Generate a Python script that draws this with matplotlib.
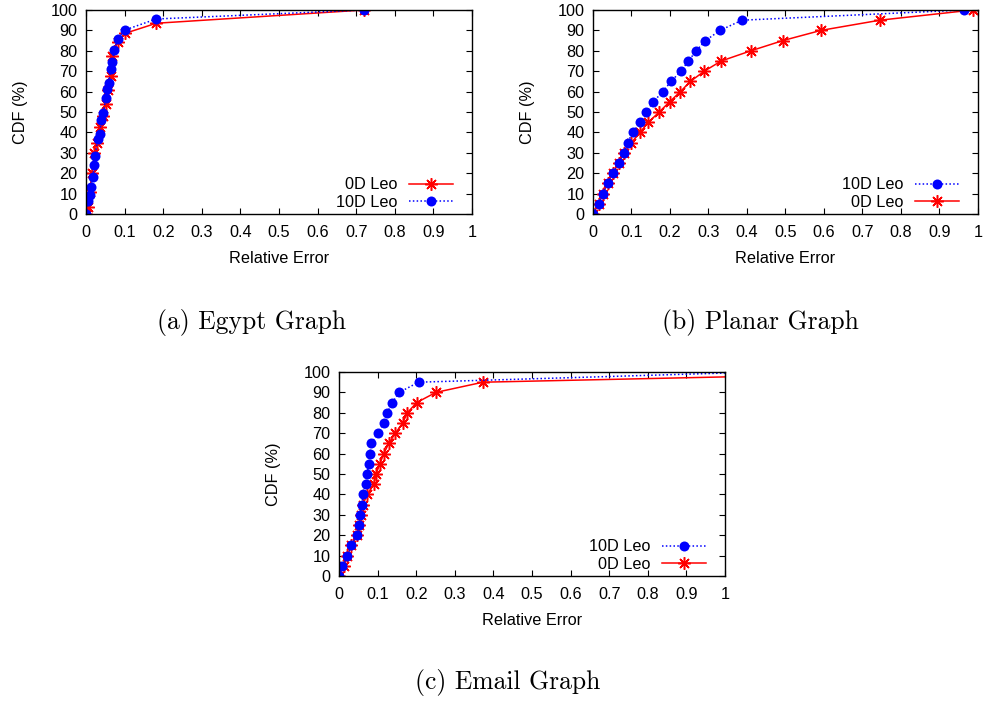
import matplotlib
matplotlib.use("Agg")
import matplotlib.pyplot as plt
from matplotlib.lines import Line2D

plt.rcParams['font.family'] = ['Liberation Sans', 'DejaVu Sans']

# ---- Egypt graph ----
egypt_10d_x = [0, 0.006, 0.010, 0.013, 0.018, 0.021, 0.024, 0.030, 0.035, 0.040,
               0.045, 0.051, 0.055, 0.059, 0.064, 0.068, 0.073, 0.082, 0.101, 0.182, 0.72]
egypt_10d_y = [0, 6.2, 9.3, 13.4, 18.3, 24, 28.4, 36.6, 39, 46,
               49.7, 56.7, 61.1, 64.4, 70.9, 74.7, 80.4, 86, 90.2, 95.6, 100]
egypt_0d_x = [0, 0.004, 0.010, 0.015, 0.022, 0.029, 0.036, 0.043, 0.051, 0.058,
              0.064, 0.068, 0.082, 0.102, 0.182, 0.72]
egypt_0d_y = [0, 3.6, 11, 20, 29.7, 35, 42.8, 48, 53.8, 61,
              67.6, 77.5, 84.5, 88.6, 93.5, 100]

# ---- Planar graph ----
planar_y = [0, 5, 10, 15, 20, 25, 30, 35, 40, 45, 50,
            55, 60, 65, 70, 75, 80, 85, 90, 95, 100]
planar_10d_x = [0, 0.015, 0.025, 0.038, 0.051, 0.068, 0.080, 0.090, 0.103, 0.123, 0.138,
                0.157, 0.181, 0.203, 0.228, 0.248, 0.268, 0.292, 0.330, 0.387, 0.964]
planar_0d_x = [0, 0.015, 0.026, 0.038, 0.051, 0.067, 0.080, 0.100, 0.122, 0.144, 0.172,
               0.199, 0.227, 0.253, 0.289, 0.333, 0.410, 0.493, 0.592, 0.745, 0.986]

# ---- Email graph ----
email_y = [0, 5, 10, 15, 20, 25, 30, 35, 40, 45, 50,
           55, 60, 65, 70, 75, 80, 85, 90, 95, 100]
email_10d_x = [0, 0.009, 0.022, 0.032, 0.046, 0.053, 0.054, 0.059, 0.062, 0.069, 0.073,
               0.077, 0.080, 0.084, 0.100, 0.116, 0.125, 0.138, 0.156, 0.206, 1.09]
email_0d_x = [0, 0.013, 0.022, 0.032, 0.046, 0.053, 0.056, 0.062, 0.073, 0.090, 0.096,
              0.106, 0.116, 0.129, 0.146, 0.165, 0.177, 0.201, 0.251, 0.373, 1.58]

x_ticks = [0, 0.1, 0.2, 0.3, 0.4, 0.5, 0.6, 0.7, 0.8, 0.9, 1]
x_tick_labels = ['0', '0.1', '0.2', '0.3', '0.4', '0.5', '0.6', '0.7', '0.8', '0.9', '1']
y_ticks = [0, 10, 20, 30, 40, 50, 60, 70, 80, 90, 100]

captions = ['(a) Egypt Graph', '(b) Planar Graph', '(c) Email Graph']

W, H = 987, 702
fig = plt.figure(figsize=(W / 100, H / 100), dpi=100)


def px_axes(left, top, right, bottom):
    return fig.add_axes([left / W, 1 - bottom / H, (right - left) / W, (bottom - top) / H])


STAR = (8, 2, 0)
FS = 11.7


def draw(ax, x0, y0, x1, y1, order):
    ax.set_xlim(0, 1)
    ax.set_ylim(0, 100)
    red = dict(color='#ff0000', lw=1.1, ls='-', marker=STAR, ms=9, mew=1.1,
               label='0D Leo', clip_on=True)
    blue = dict(color='#0000ff', lw=1.1, ls=(0, (1, 1.5)), marker='o', ms=7.2,
                mew=0, label='10D Leo', clip_on=True)
    ax.plot(x0, y0, **red)
    ax.plot(x1, y1, **blue)
    ax.set_xticks(x_ticks)
    ax.set_xticklabels(x_tick_labels)
    ax.set_yticks(y_ticks)
    ax.tick_params(direction='in', length=4, width=0.8, top=True, right=True,
                   labelsize=FS, pad=6)
    ax.tick_params(axis='x', pad=8)
    for s in ax.spines.values():
        s.set_linewidth(1.0)
    ax.set_xlabel('Relative Error', fontsize=FS, labelpad=8)
    ax.set_ylabel('CDF (%)', fontsize=FS, labelpad=16)
    h_red = Line2D([], [], **red)
    h_blue = Line2D([], [], **blue)
    handles = [h_red, h_blue] if order == 'red' else [h_blue, h_red]
    ax.legend(handles=handles, loc='lower right', frameon=False, markerfirst=False,
              fontsize=FS, handlelength=2.7, handletextpad=0.7, labelspacing=0.15,
              borderpad=0.0, borderaxespad=0.0, bbox_to_anchor=(0.95, 0.02))


ax_a = px_axes(86, 10, 472, 214)
draw(ax_a, egypt_0d_x, egypt_0d_y, egypt_10d_x, egypt_10d_y, 'red')
ax_b = px_axes(593, 10, 978, 214)
draw(ax_b, planar_0d_x, planar_y, planar_10d_x, planar_y, 'blue')
ax_c = px_axes(339, 372, 725, 576)
draw(ax_c, email_0d_x, email_y, email_10d_x, email_y, 'blue')

cap_kw = dict(family='cmr10', fontsize=18.5, ha='center', va='center')
fig.text(252 / W, 1 - 322 / H, captions[0], **cap_kw)
fig.text(760 / W, 1 - 322 / H, captions[1], **cap_kw)
fig.text(508 / W, 1 - 683 / H, captions[2], **cap_kw)

fig.savefig('out.png', dpi=100)
